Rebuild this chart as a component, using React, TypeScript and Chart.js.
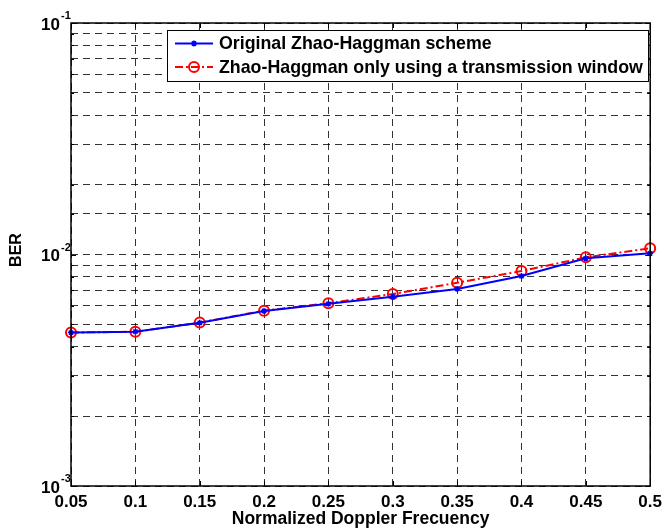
import { useEffect, useRef } from 'react';
import { Chart, registerables } from 'chart.js';

Chart.register(...registerables);

// Normalized Doppler frequency (x axis categories)
const doppler = ['0.05', '0.1', '0.15', '0.2', '0.25', '0.3', '0.35', '0.4', '0.45', '0.5'];

// Bit error rate of each scheme
const berOriginal = [4.6e-3, 4.64e-3, 5.07e-3, 5.7e-3, 6.12e-3, 6.57e-3, 7.1e-3, 8.07e-3, 9.63e-3, 1.012e-2];
const berWindow = [4.6e-3, 4.64e-3, 5.08e-3, 5.72e-3, 6.16e-3, 6.75e-3, 7.55e-3, 8.48e-3, 9.72e-3, 1.064e-2];

const seriesNames = [
  'Original Zhao-Haggman scheme',
  'Zhao-Haggman only using a transmission window',
];

// Decades that carry a 10^n label on the y axis
const decadeTicks = [1e-3, 1e-2, 1e-1];

const yTitle = 'BER';
const xTitle = 'Normalized Doppler Frecuency';

const FONT = '"Liberation Sans", Arial, Helvetica, sans-serif';

const framePlugin = {
  id: 'matlabFrame',
  afterDraw(chart: any) {
    const ctx = chart.ctx as CanvasRenderingContext2D;
    const { left, right, top, bottom } = chart.chartArea;
    const xs = chart.scales.x;
    const ys = chart.scales.y;

    ctx.save();
    ctx.strokeStyle = '#000';
    ctx.lineWidth = 1;
    ctx.setLineDash([]);

    // inward tick marks on all four sides
    doppler.forEach((_, i) => {
      const px = Math.round(xs.getPixelForValue(i)) + 0.5;
      ctx.beginPath();
      ctx.moveTo(px, bottom);
      ctx.lineTo(px, bottom - 5);
      ctx.moveTo(px, top);
      ctx.lineTo(px, top + 5);
      ctx.stroke();
    });
    ys.ticks.forEach((t: any) => {
      const v = t.value;
      const py = Math.round(ys.getPixelForValue(v)) + 0.5;
      const major = Math.abs(Math.log10(v) - Math.round(Math.log10(v))) < 1e-6;
      const len = major ? 5 : 3;
      ctx.beginPath();
      ctx.moveTo(left, py);
      ctx.lineTo(left + len, py);
      ctx.moveTo(right, py);
      ctx.lineTo(right - len, py);
      ctx.stroke();
    });

    // axes box
    ctx.lineWidth = 1.5;
    ctx.strokeRect(left, top, right - left, bottom - top);

    // y decade labels 10^n
    ctx.fillStyle = '#000';
    decadeTicks.forEach((v) => {
      const py = ys.getPixelForValue(v);
      const exp = Math.round(Math.log10(v));
      ctx.font = `bold 17px ${FONT}`;
      ctx.textAlign = 'right';
      ctx.textBaseline = 'middle';
      ctx.fillText('10', left - 11, py + 2);
      ctx.font = `bold 11px ${FONT}`;
      ctx.textAlign = 'left';
      ctx.fillText(String(exp), left - 10, py - 7);
    });

    // axis titles
    ctx.font = `bold 17.5px ${FONT}`;
    ctx.textAlign = 'center';
    ctx.textBaseline = 'middle';
    ctx.fillText(xTitle, (left + right) / 2, 519);
    ctx.font = `bold 16px ${FONT}`;
    ctx.save();
    ctx.translate(17, 250);
    ctx.rotate(-Math.PI / 2);
    ctx.fillText(yTitle, 0, 0);
    ctx.restore();

    // legend box
    const lx0 = 167, lx1 = 648, ly0 = 30, ly1 = 81;
    ctx.fillStyle = '#fff';
    ctx.fillRect(lx0, ly0, lx1 - lx0, ly1 - ly0);
    ctx.lineWidth = 1;
    ctx.strokeStyle = '#000';
    ctx.strokeRect(lx0 + 0.5, ly0 + 0.5, lx1 - lx0, ly1 - ly0);

    chart.data.datasets.forEach((ds: any, i: number) => {
      const cy = 43.5 + i * 23.5;
      ctx.strokeStyle = ds.borderColor;
      ctx.lineWidth = ds.borderWidth;
      ctx.setLineDash(ds.borderDash || []);
      ctx.beginPath();
      ctx.moveTo(175, cy);
      ctx.lineTo(213, cy);
      ctx.stroke();
      ctx.setLineDash([]);
      const mx = 194;
      ctx.strokeStyle = ds.pointBorderColor;
      ctx.lineWidth = ds.pointBorderWidth;
      if (ds.pointStyle === 'circle') {
        ctx.beginPath();
        ctx.arc(mx, cy, ds.pointRadius, 0, Math.PI * 2);
        ctx.stroke();
      } else {
        const r = ds.pointRadius;
        ctx.beginPath();
        ctx.moveTo(mx - r, cy);
        ctx.lineTo(mx + r, cy);
        ctx.moveTo(mx, cy - r);
        ctx.lineTo(mx, cy + r);
        ctx.moveTo(mx - r * 0.7, cy - r * 0.7);
        ctx.lineTo(mx + r * 0.7, cy + r * 0.7);
        ctx.moveTo(mx - r * 0.7, cy + r * 0.7);
        ctx.lineTo(mx + r * 0.7, cy - r * 0.7);
        ctx.stroke();
      }
      ctx.fillStyle = '#000';
      ctx.font = `bold 17.8px ${FONT}`;
      ctx.textAlign = 'left';
      ctx.textBaseline = 'middle';
      ctx.fillText(ds.label, 219, cy + 1);
    });

    ctx.restore();
  },
};

export default function App() {
  const canvasRef = useRef<HTMLCanvasElement>(null);

  useEffect(() => {
    if (!canvasRef.current) return;
    const chart = new Chart(canvasRef.current, {
      type: 'line',
      data: {
        labels: doppler,
        datasets: [
          {
            label: seriesNames[0],
            data: berOriginal,
            borderColor: '#0000ff',
            backgroundColor: '#0000ff',
            borderWidth: 2,
            pointStyle: 'star',
            pointRadius: 3,
            pointBorderColor: '#0000ff',
            pointBorderWidth: 1.5,
            pointBackgroundColor: '#0000ff',
            tension: 0,
          },
          {
            label: seriesNames[1],
            data: berWindow,
            borderColor: '#ff0000',
            backgroundColor: 'rgba(0,0,0,0)',
            borderWidth: 2,
            borderDash: [8, 3, 2, 3],
            pointStyle: 'circle',
            pointRadius: 5,
            pointBorderColor: '#ff0000',
            pointBorderWidth: 2,
            pointBackgroundColor: 'rgba(0,0,0,0)',
            tension: 0,
          },
        ],
      },
      options: {
        responsive: false,
        animation: false,
        devicePixelRatio: 1,
        layout: { padding: { left: 0, top: 23, right: 14, bottom: 0 } },
        plugins: {
          legend: { display: false },
          tooltip: { enabled: false },
        },
        scales: {
          x: {
            type: 'category',
            offset: false,
            grid: {
              color: 'rgba(0,0,0,0.8)',
              lineWidth: 1,
              drawTicks: false,
            },
            border: { display: false, dash: [7, 5] },
            ticks: {
              color: '#000',
              font: { family: FONT, size: 17, weight: 'bold' },
              padding: 6,
              maxRotation: 0,
              autoSkip: false,
            },
            afterFit(scale: any) {
              scale.height = 43;
            },
          },
          y: {
            type: 'logarithmic',
            min: 1e-3,
            max: 1e-1,
            grid: {
              color: 'rgba(0,0,0,0.8)',
              lineWidth: 1,
              drawTicks: false,
            },
            border: { display: false, dash: [7, 5] },
            ticks: { display: false },
            afterFit(scale: any) {
              scale.width = 71;
            },
          },
        },
      },
      plugins: [framePlugin],
    } as any);
    return () => chart.destroy();
  }, []);

  return (
    <div style={{ position: 'absolute', left: 0, top: 0, width: 668, height: 529, background: '#fff' }}>
      <canvas ref={canvasRef} width={668} height={529} />
    </div>
  );
}
